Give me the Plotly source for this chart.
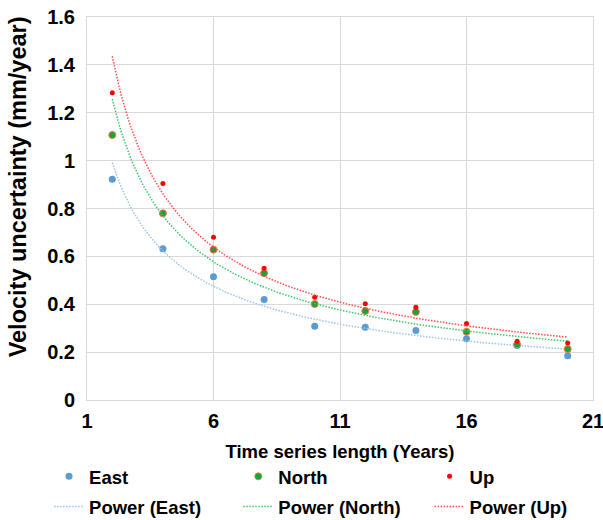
import numpy as np
import plotly.graph_objects as go

years = [2, 4, 6, 8, 10, 12, 14, 16, 18, 20]
east = [0.922, 0.632, 0.515, 0.420, 0.308, 0.304, 0.290, 0.256, 0.228, 0.185]
north = [1.107, 0.780, 0.628, 0.530, 0.401, 0.372, 0.368, 0.285, 0.232, 0.213]
up = [1.284, 0.904, 0.680, 0.550, 0.429, 0.402, 0.387, 0.320, 0.245, 0.238]

x_ticks = [1, 6, 11, 16, 21]
y_ticks = [0, 0.2, 0.4, 0.6, 0.8, 1, 1.2, 1.4, 1.6]

font_family = "Liberation Sans, Arial, sans-serif"
tick_font = dict(family=font_family, size=20, color="#000000", weight="bold")
leg_font = dict(family=font_family, size=18.5, color="#000000", weight="bold")
xtitle_font = dict(family=font_family, size=18.5, color="#000000", weight="bold")
ytitle_font = dict(family=font_family, size=23.5, color="#000000", weight="bold")

def power_fit(x, y):
    b, ln_a = np.polyfit(np.log(x), np.log(y), 1)
    xs = np.linspace(min(x), max(x), 200)
    return xs, np.exp(ln_a) * xs ** b

fig = go.Figure()

series = [
    ("East", east, dict(color="#5B9BD5", size=7), "#9DC3E6", "legend"),
    ("North", north, dict(color="#1E9E44", size=7, line=dict(color="#ED7D31", width=1)), "#3CC46A", "legend2"),
    ("Up", up, dict(color="#FF0000", size=5), "#FF4B4B", "legend3"),
]

for name, vals, marker, lc, lg in series:
    fig.add_trace(go.Scatter(x=years, y=vals, mode="markers", name=name,
                             marker=marker, legend=lg, legendgroup=name))
    xs, ys = power_fit(years, vals)
    fig.add_trace(go.Scatter(x=xs, y=ys, mode="lines", name=f"Power ({name})",
                             line=dict(color=lc, width=1.5, dash="1.5px,1.5px"),
                             legend=lg, legendgroup=f"p{name}"))

axis_common = dict(
    showgrid=True, gridcolor="#D9D9D9", gridwidth=1,
    showline=True, linecolor="#D9D9D9", linewidth=1, mirror=True,
    zeroline=False, ticks="", ticklabeloverflow="allow",
    tickfont=tick_font,
)

leg_common = dict(orientation="v", y=-0.151, xanchor="left", yanchor="top",
                  font=leg_font, bgcolor="rgba(0,0,0,0)", tracegroupgap=3,
                  traceorder="grouped")

fig.update_layout(
    width=603, height=520,
    margin=dict(l=87, r=10, t=17, b=120, autoexpand=False),
    paper_bgcolor="white", plot_bgcolor="white",
    font=dict(family=font_family, color="#000000"),
    xaxis=dict(range=[1, 21], tickvals=x_ticks, ticklabelstandoff=3,
               title=dict(text="Time series length (Years)", font=xtitle_font, standoff=14),
               **axis_common),
    yaxis=dict(range=[0, 1.6], tickvals=y_ticks, ticklabelstandoff=7,
               **axis_common),
    legend=dict(x=-0.075, **leg_common),
    legend2=dict(x=0.299, **leg_common),
    legend3=dict(x=0.677, **leg_common),
    showlegend=True,
    annotations=[dict(text="Velocity uncertainty (mm/year)", textangle=-90,
                      xref="paper", yref="paper", x=-0.137, y=0.557,
                      xanchor="center", yanchor="middle", showarrow=False,
                      font=ytitle_font)],
)

fig.write_html("out.html",
               config={"displayModeBar": False},
               post_script="document.body.style.margin='0';document.body.style.overflow='hidden';")
